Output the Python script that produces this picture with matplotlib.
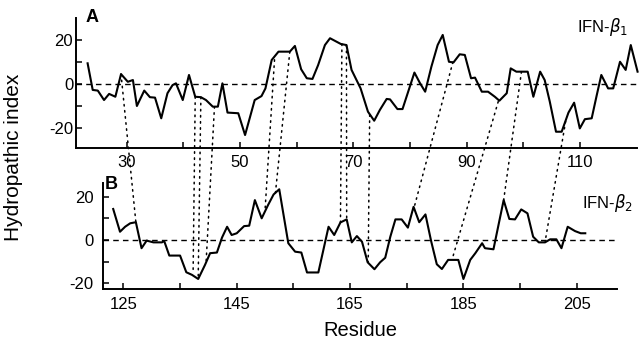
import matplotlib
matplotlib.use("Agg")
import matplotlib.pyplot as plt
from matplotlib.patches import ConnectionPatch

plt.rcParams['font.family'] = ['Liberation Sans', 'DejaVu Sans']
plt.rcParams['axes.unicode_minus'] = False

# IFN-beta1 hydropathy profile (panel A)
res_a = [23.1, 24.0, 24.9, 26.0, 26.9, 28.0, 29.0, 30.2, 31.1, 31.8, 33.1, 34.1,
         35.0, 36.1, 37.2, 38.1, 38.7, 39.9, 41.0, 42.1, 43.1, 44.0, 45.2, 46.1,
         46.9, 47.8, 49.7, 50.9, 52.6, 53.8, 54.5, 55.6, 56.8, 58.8, 59.7, 60.8,
         61.8, 62.8, 63.8, 65.0, 65.9, 67.8, 68.8, 69.7, 71.3, 72.6, 73.7, 74.7,
         75.9, 76.5, 77.8, 78.7, 79.7, 80.8, 81.8, 82.7, 83.8, 84.9, 85.8, 86.9,
         87.7, 88.8, 89.7, 90.8, 91.5, 92.7, 93.8, 95.0, 95.8, 97.1, 97.8, 98.8,
         100.8, 101.8, 103.0, 103.8, 104.7, 105.8, 106.8, 108.0, 109.0, 110.0,
         110.9, 112.1, 113.0, 113.8, 115.0, 115.9, 117.1, 118.1, 119.0, 120.2]
hyd_a = [9.4, -2.7, -3.0, -7.3, -4.5, -5.8, 4.5, 1.0, 1.8, -10.0, -3.0, -6.0,
         -6.2, -15.6, -4.2, -0.5, 0.3, -7.3, 4.1, -5.8, -6.0, -7.3, -10.3, -10.3,
         0.3, -13.0, -13.3, -23.2, -7.3, -5.5, -2.0, 10.9, 14.7, 14.7, 17.3, 6.7,
         2.6, 2.3, 8.6, 17.7, 20.8, 18.2, 17.7, 6.4, -2.0, -12.6, -16.7, -11.8,
         -6.8, -7.0, -11.4, -11.4, -3.5, 5.2, 0.3, -3.5, 7.9, 17.7, 22.3, 10.1,
         9.8, 13.5, 13.2, 2.6, 2.9, -3.5, -3.5, -5.8, -7.6, -4.2, 7.1, 5.6,
         5.6, -5.8, 5.6, 1.8, -8.0, -21.7, -21.7, -13.0, -8.5, -20.2,
         -16.0, -15.6, -5.0, 4.1, -2.0, -2.0, 10.1, 6.4, 17.7, 5.6]

# IFN-beta2 hydropathy profile (panel B)
res_b = [123.2, 124.4, 125.3, 126.2, 127.2, 128.2, 129.1, 130.3, 131.8, 132.2,
         133.1, 135.0, 136.1, 137.1, 138.2, 139.4, 140.3, 141.5, 142.4, 143.3,
         144.1, 145.0, 146.3, 147.2, 148.2, 149.4, 150.5, 151.5, 152.5, 154.1,
         155.3, 156.4, 157.4, 159.4, 161.2, 162.2, 163.3, 164.4, 165.3, 166.2,
         167.1, 168.1, 169.3, 170.3, 171.2, 172.1, 173.0, 174.1, 175.2, 176.2,
         177.2, 178.3, 179.3, 180.3, 181.2, 182.3, 184.1, 185.0, 186.2, 187.1,
         188.3, 188.8, 190.3, 192.1, 193.1, 194.1, 195.2, 196.3, 197.3, 198.3,
         199.4, 200.3, 201.4, 202.3, 203.4, 204.7, 205.7, 206.5]
hyd_b = [14.3, 3.8, 6.1, 7.7, 8.2, -3.8, -0.3, -1.1, -1.1, -0.5,
         -7.2, -7.2, -14.9, -16.1, -18.0, -11.5, -6.1, -5.8, 1.1, 6.1,
         2.3, 3.1, 6.4, 6.6, 18.4, 10.0, 16.0, 21.0, 23.4, -1.5,
         -5.4, -5.8, -15.0, -15.0, 6.1, 2.3, 8.1, 9.5, -1.1, 1.8,
         -0.8, -10.3, -13.5, -10.3, -8.2, 1.5, 9.5, 9.5, 5.7, 15.3,
         8.2, 11.8, -0.5, -11.2, -13.4, -9.2, -9.2, -18.0, -9.2, -6.1,
         -1.5, -3.8, -4.3, 18.4, 9.7, 9.5, 14.1, 12.3, 1.5, -1.1,
         -1.1, 0.3, 0.3, -3.8, 6.1, 4.1, 3.1, 3.1]

# dotted alignment links: point on A -> point on B
link_a_res = [29.0, 42.1, 43.1, 45.5, 56.1, 58.8, 68.0, 68.8, 72.9, 87.6, 95.6, 99.7, 107.5]
link_a_val = [4.5, -5.8, -6.0, -10.3, 11.0, 14.7, 18.2, 17.7, -14.0, 10.0, -8.0, 5.6, -17.0]
link_b_res = [127.2, 137.3, 138.2, 139.6, 150.0, 151.8, 163.3, 164.4, 168.2, 176.3, 183.0, 192.1, 199.4]
link_b_val = [8.2, -15.0, -17.0, -10.0, 14.0, 21.0, 8.1, 9.5, -10.0, 15.0, -9.0, 18.4, -1.0]

W, H = 641, 340
fig = plt.figure(figsize=(W / 100, H / 100), dpi=100)
axA = fig.add_axes([76 / W, 1 - 148 / H, 561 / W, 130 / H])
axB = fig.add_axes([103 / W, 1 - 288.5 / H, 514 / W, 105.5 / H])

axA.plot(res_a, hyd_a, color='black', lw=1.5, clip_on=False)
axB.plot(res_b, hyd_b, color='black', lw=1.5, clip_on=False)

for ax in (axA, axB):
    ax.axhline(0, color='black', lw=1.0, ls=(0, (4, 3)))
    for s in ('top', 'right'):
        ax.spines[s].set_visible(False)
    for s in ('left', 'bottom'):
        ax.spines[s].set_linewidth(1.4)
    ax.set_yticks([-20, -10, 0, 10, 20])
    ax.set_yticklabels(['-20', '', '0', '', '20'])
    ax.tick_params(direction='in', length=4, width=1.1, labelsize=12)
    ax.patch.set_alpha(0)

axA.set_xlim(21.05, 120.1)
axA.set_ylim(-29.1, 30)
axA.set_xticks(range(30, 120, 10))
axA.set_xticklabels(['30', '', '50', '', '70', '', '90', '', '110'])
axA.tick_params(axis='y', pad=2)
axA.tick_params(axis='x', pad=5)

axB.set_xlim(121.4, 212.1)
axB.set_ylim(-22.4, 26.3)
axB.set_xticks(range(125, 210, 10))
axB.set_xticklabels(['125', '', '145', '', '165', '', '185', '', '205'])
axB.tick_params(axis='y', pad=7)
axB.tick_params(axis='x', pad=6)

for xa, ya, xb, yb in zip(link_a_res, link_a_val, link_b_res, link_b_val):
    con = ConnectionPatch(xyA=(xa, ya), coordsA='data', axesA=axA,
                          xyB=(xb, yb), coordsB='data', axesB=axB,
                          color='black', lw=1.1, ls=(0, (1, 3)))
    fig.add_artist(con)

fig.text(92 / W, 1 - 18 / H, 'A', fontsize=13, fontweight='bold', ha='center', va='center')
fig.text(111 / W, 1 - 185 / H, 'B', fontsize=13, fontweight='bold', ha='center', va='center')
fig.text(628 / W, 1 - 27 / H, r'IFN-$\beta_1$', fontsize=12, ha='right', va='center')
fig.text(582 / W, 1 - 203 / H, r'IFN-$\beta_2$', fontsize=12, ha='left', va='center')

fig.text(14 / W, 1 - 157 / H, 'Hydropathic index', fontsize=15, rotation=90,
         ha='center', va='center')
fig.text(360 / W, 1 - 330 / H, 'Residue', fontsize=14.5, ha='center', va='center')

fig.savefig('out.png', dpi=100)
